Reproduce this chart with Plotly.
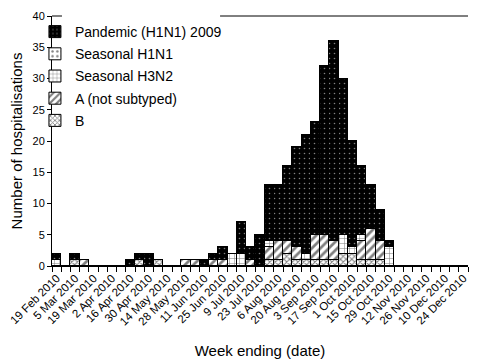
import plotly.graph_objects as go

weeks = ["19 Feb 2010", "26 Feb 2010", "5 Mar 2010", "12 Mar 2010", "19 Mar 2010", "26 Mar 2010",
         "2 Apr 2010", "9 Apr 2010", "16 Apr 2010", "23 Apr 2010", "30 Apr 2010", "7 May 2010",
         "14 May 2010", "21 May 2010", "28 May 2010", "4 Jun 2010", "11 Jun 2010", "18 Jun 2010",
         "25 Jun 2010", "2 Jul 2010", "9 Jul 2010", "16 Jul 2010", "23 Jul 2010", "30 Jul 2010",
         "6 Aug 2010", "13 Aug 2010", "20 Aug 2010", "27 Aug 2010", "3 Sep 2010", "10 Sep 2010",
         "17 Sep 2010", "24 Sep 2010", "1 Oct 2010", "8 Oct 2010", "15 Oct 2010", "22 Oct 2010",
         "29 Oct 2010", "5 Nov 2010", "12 Nov 2010", "19 Nov 2010", "26 Nov 2010", "3 Dec 2010",
         "10 Dec 2010", "17 Dec 2010", "24 Dec 2010"]

pandemic = [1, 0, 1, 0, 0, 0, 0, 0, 1, 1, 2, 0, 0, 0, 0, 0, 1, 1, 2, 0, 5, 2, 5, 9,
            9, 12, 16, 19, 18, 27, 32, 25, 17, 11, 7, 5, 1, 0, 0, 0, 0, 0, 0, 0, 0]
seasonal_h1n1 = [0] * 45
seasonal_h3n2 = [1, 0, 0, 0, 0, 0, 0, 0, 0, 0, 0, 0, 0, 0, 0, 0, 0, 0, 0, 2, 2, 0, 0, 1,
                 0, 0, 0, 1, 0, 0, 0, 3, 1, 1, 0, 0, 3, 0, 0, 0, 0, 0, 0, 0, 0]
a_not_subtyped = [0, 0, 0, 1, 0, 0, 0, 0, 0, 0, 0, 0, 0, 0, 1, 1, 0, 1, 1, 0, 0, 1, 0, 2,
                  3, 2, 2, 0, 4, 4, 3, 0, 0, 3, 5, 3, 0, 0, 0, 0, 0, 0, 0, 0, 0]
b_values = [0, 0, 1, 0, 0, 0, 0, 0, 0, 1, 0, 1, 0, 0, 0, 0, 0, 0, 0, 0, 0, 0, 0, 1,
            1, 2, 1, 1, 1, 1, 1, 2, 2, 1, 1, 1, 0, 0, 0, 0, 0, 0, 0, 0, 0]

x = list(range(len(weeks)))
label_idx = list(range(0, len(weeks), 2))

FONT = "Liberation Sans, Arial, sans-serif"

series = [
    ("B", b_values, dict(shape="x", size=4, solidity=0.45, fgcolor="black", bgcolor="white"), 5),
    ("A (not subtyped)", a_not_subtyped, dict(shape="/", size=6, solidity=0.45, fgcolor="black", bgcolor="white"), 4),
    ("Seasonal H3N2", seasonal_h3n2, dict(shape="+", size=5, solidity=0.2, fgcolor="black", bgcolor="white"), 3),
    ("Seasonal H1N1", seasonal_h1n1, dict(shape=".", size=6, solidity=0.2, fgcolor="black", bgcolor="white"), 2),
    ("Pandemic (H1N1) 2009", pandemic, dict(shape=".", size=5, solidity=0.08, fgcolor="white", bgcolor="black"), 1),
]

fig = go.Figure()
for name, vals, pat, rank in series:
    fig.add_trace(go.Bar(
        x=x, y=vals, name=name,
        marker=dict(color=pat["bgcolor"], line=dict(color="black", width=1),
                    pattern=dict(fillmode="overlay", **pat)),
        legendrank=rank, legendgroup=name,
    ))

fig.update_layout(
    barmode="stack", bargap=0,
    width=480, height=360,
    margin=dict(l=44, r=20, t=8, b=102),
    paper_bgcolor="white", plot_bgcolor="white",
    font=dict(family=FONT, color="black", size=11),
    showlegend=True,
    legend=dict(x=-0.041, y=1.0, xanchor="left", yanchor="top", bgcolor="rgba(0,0,0,0)",
                font=dict(size=14, family=FONT), tracegroupgap=1, itemwidth=30),
    shapes=[
        dict(type="line", xref="paper", yref="paper", x0=0, x1=0.024, y0=1, y1=1,
             line=dict(color="black", width=1)),
        dict(type="line", xref="paper", yref="paper", x0=0.404, x1=1, y0=1, y1=1,
             line=dict(color="black", width=1)),
    ],
)

fig.update_xaxes(
    range=[-0.5, len(weeks) - 0.5], automargin=False, ticklabeloverflow="allow",
    tickmode="array", tickvals=label_idx, ticktext=[weeks[i] for i in label_idx],
    tickangle=-45, ticks="", tickfont=dict(size=11.5),
    minor=dict(tickmode="linear", tick0=-0.5, dtick=1, ticks="outside", ticklen=5,
               tickcolor="black", showgrid=False),
    showline=True, linecolor="black", linewidth=1, showgrid=False, zeroline=False,
    title=dict(text="Week ending (date)", font=dict(size=15), standoff=18),
)
fig.update_yaxes(
    range=[0, 40], dtick=5, ticks="outside", ticklen=4, tickcolor="black", automargin=False,
    ticklabeloverflow="allow",
    showline=True, linecolor="black", linewidth=1, showgrid=False, zeroline=False,
    tickfont=dict(size=11),
    title=dict(text="Number of hospitalisations", font=dict(size=15), standoff=22),
)

fig.write_html("out.html")
